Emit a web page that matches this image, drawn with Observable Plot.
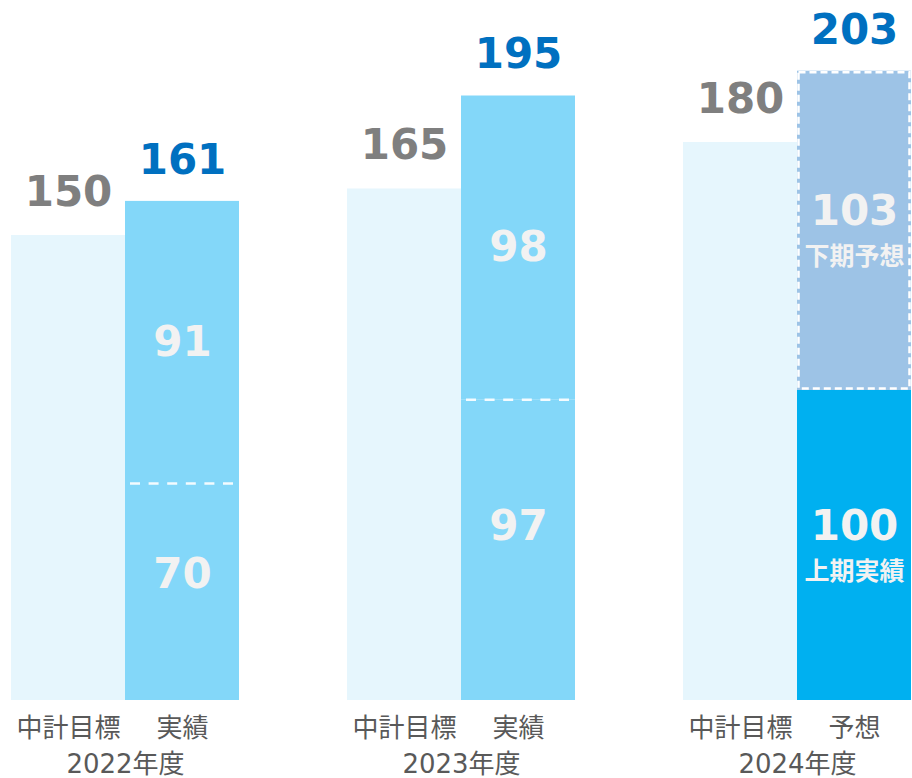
<!DOCTYPE html>
<html>
<head>
<meta charset="utf-8">
<script src="https://cdn.jsdelivr.net/npm/d3@7"></script>
<script src="https://cdn.jsdelivr.net/npm/@observablehq/plot@0.6"></script>
<style>
  html, body { margin: 0; padding: 0; background: #fff; }
  #chart svg { display: block; }
</style>
</head>
<body>
<div id="chart"></div>
<script>
// ---- data ----
const years = ["2022年度", "2023年度", "2024年度"];
const targets = [150, 165, 180];          // 中計目標
const firstHalf = [70, 97, 100];          // 上期 (実績)
const secondHalf = [91, 98, 103];         // 下期 (実績 / 予想)
const targetLabel = "中計目標";
const actualLabels = ["実績", "実績", "予想"];
const h1Label = "上期実績";
const h2Label = "下期予想";

// ---- derived tables ----
const isForecast = i => i === 2;
const segments = years.flatMap((year, i) => [
  {year, cat: "target", y1: 0, y2: targets[i], kind: "target"},
  {year, cat: "actual", y1: 0, y2: firstHalf[i], kind: isForecast(i) ? "h1" : "actual"},
  {year, cat: "actual", y1: firstHalf[i], y2: firstHalf[i] + secondHalf[i], kind: isForecast(i) ? "h2" : "actual"}
]);
const totals = years.map((year, i) => ({year, cat: "actual", value: firstHalf[i] + secondHalf[i]}));
const targetRows = years.map((year, i) => ({year, cat: "target", value: targets[i]}));
const splits = years.map((year, i) => ({year, cat: "actual", value: firstHalf[i]})).filter((d, i) => !isForecast(i));
const innerPast = years.flatMap((year, i) => isForecast(i) ? [] : [
  {year, cat: "actual", pos: firstHalf[i] * 0.58, text: String(firstHalf[i])},
  {year, cat: "actual", pos: firstHalf[i] + secondHalf[i] / 2, text: String(secondHalf[i])}
]);
const innerFc = years.flatMap((year, i) => !isForecast(i) ? [] : [
  {year, cat: "actual", pos: firstHalf[i] / 2, num: String(firstHalf[i]), sub: h1Label},
  {year, cat: "actual", pos: firstHalf[i] + secondHalf[i] / 2, num: String(secondHalf[i]), sub: h2Label}
]);
const axisRows = years.flatMap((year, i) => [
  {year, cat: "target", text: targetLabel},
  {year, cat: "actual", text: actualLabels[i]}
]);

const numFont = "DejaVu Sans, Verdana, sans-serif";
const jpFont = "DejaVu Sans, 'Noto Sans CJK JP', sans-serif";

const chart = Plot.plot({
  width: 912,
  height: 778,
  marginTop: 0,
  marginBottom: 78,
  marginLeft: 10,
  marginRight: 0,
  style: {fontFamily: jpFont, background: "#fff"},
  fx: {domain: years, paddingInner: 0.3205, paddingOuter: 0, axis: null},
  x: {domain: ["target", "actual"], paddingInner: 0, paddingOuter: 0, axis: null},
  y: {domain: [0, 700 / 3.1], axis: null},
  color: {
    domain: ["target", "actual", "h1", "h2"],
    range: ["#E6F6FD", "#83D7F9", "#00B0F0", "#9DC3E6"]
  },
  marks: [
    Plot.barY(segments, {fx: "year", x: "cat", y1: "y1", y2: "y2", fill: "kind"}),
    Plot.barY(segments.filter(d => d.kind === "h2"), {
      fx: "year", x: "cat", y1: "y1", y2: "y2", fill: "none",
      stroke: "#ffffff", strokeWidth: 2.5, strokeDasharray: "7,4", inset: 1.5
    }),
    Plot.tickY(splits, {
      fx: "year", x: "cat", y: "value", stroke: "#fff", strokeWidth: 2.5,
      strokeOpacity: 0.9, strokeDasharray: "10,8.6", insetLeft: 5, insetRight: 6
    }),
    // value labels above bars
    Plot.text(targetRows, {
      fx: "year", x: "cat", y: "value", text: d => String(d.value), dy: -43,
      fill: "#7F7F7F", fontSize: 42, fontWeight: "bold", fontFamily: numFont
    }),
    Plot.text(totals, {
      fx: "year", x: "cat", y: "value", text: d => String(d.value), dy: -41,
      fill: "#0070C0", fontSize: 42, fontWeight: "bold", fontFamily: numFont
    }),
    // inner labels
    Plot.text(innerPast, {
      fx: "year", x: "cat", y: "pos", text: "text",
      fill: "#F2F2F2", fontSize: 42, fontWeight: "bold", fontFamily: numFont
    }),
    Plot.text(innerFc, {
      fx: "year", x: "cat", y: "pos", text: "num", dy: -19,
      fill: "#F2F2F2", fontSize: 42, fontWeight: "bold", fontFamily: numFont
    }),
    Plot.text(innerFc, {
      fx: "year", x: "cat", y: "pos", text: "sub", dy: 26,
      fill: "#F2F2F2", fontSize: 25, fontWeight: "bold", fontFamily: "'Noto Sans CJK JP', sans-serif"
    }),
    // category labels
    Plot.text(axisRows, {
      fx: "year", x: "cat", text: "text", frameAnchor: "bottom", dy: 36,
      fill: "#595959", fontSize: 26, fontFamily: "'Noto Sans CJK JP', sans-serif"
    }),
    Plot.text(years, {
      fx: d => d, text: d => d, frameAnchor: "bottom", dy: 72,
      fill: "#595959", fontSize: 26, fontFamily: jpFont
    })
  ]
});
document.getElementById("chart").appendChild(chart);
</script>
</body>
</html>
